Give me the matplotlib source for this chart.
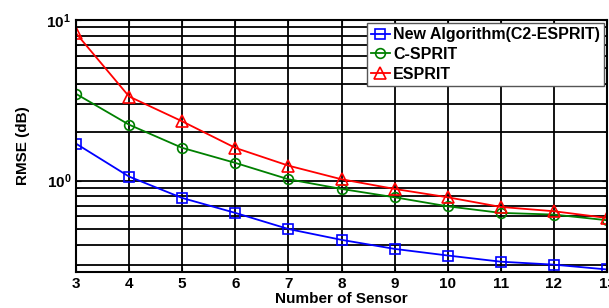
import matplotlib.pyplot as plt
import numpy as np

# Datos
sensores = [3, 4, 5, 6, 7, 8, 9, 10, 11, 12, 13]
rmse_nuevo = [1.70, 1.06, 0.78, 0.63, 0.50, 0.428, 0.376, 0.342, 0.313, 0.30, 0.28]
rmse_csprit = [3.47, 2.23, 1.60, 1.29, 1.02, 0.888, 0.788, 0.692, 0.63, 0.615, 0.567]
rmse_esprit = [8.27, 3.34, 2.34, 1.60, 1.24, 1.02, 0.888, 0.788, 0.686, 0.645, 0.586]

plt.rcParams['font.family'] = ['Liberation Sans', 'DejaVu Sans']
plt.rcParams['font.weight'] = 'bold'

fig = plt.figure(figsize=(6.09, 3.08), dpi=100)
ax = fig.add_axes([76 / 609, 36 / 308, 531 / 609, 252 / 308])

ax.semilogy(sensores, rmse_nuevo, color='blue', marker='s', ms=6.5,
            mfc='none', mew=1.2, lw=1.3, label='New Algorithm(C2-ESPRIT)')
ax.semilogy(sensores, rmse_csprit, color='#008000', marker='o', ms=7,
            mfc='none', mew=1.2, lw=1.3, label='C-SPRIT')
ax.semilogy(sensores, rmse_esprit, color='red', marker='^', ms=8,
            mfc='none', mew=1.2, lw=1.3, label='ESPRIT')

ax.set_xlim(3, 13)
ax.set_ylim(0.27, 10)
ax.set_xticks(sensores)

# Rejilla estilo MATLAB
ax.grid(True, which='both', color='black', lw=1.3)
ax.set_axisbelow(True)
for s in ax.spines.values():
    s.set_linewidth(1.5)
ax.tick_params(which='both', direction='in', labelsize=11, top=True, right=True)
ax.tick_params(which='minor', labelleft=False)

ax.set_xlabel('Number of Sensor', fontsize=11, fontweight='bold', labelpad=1)
ax.set_ylabel('RMSE (dB)', fontsize=11, fontweight='bold', labelpad=12)

leg = ax.legend(loc='upper right', fontsize=11.5, handlelength=1.2,
                handletextpad=0.2, borderpad=0.25, labelspacing=0.3,
                fancybox=False, framealpha=1, borderaxespad=0.2)
leg.get_frame().set_edgecolor('#555555')
leg.get_frame().set_linewidth(1.0)

fig.savefig('out.png', dpi=100)
